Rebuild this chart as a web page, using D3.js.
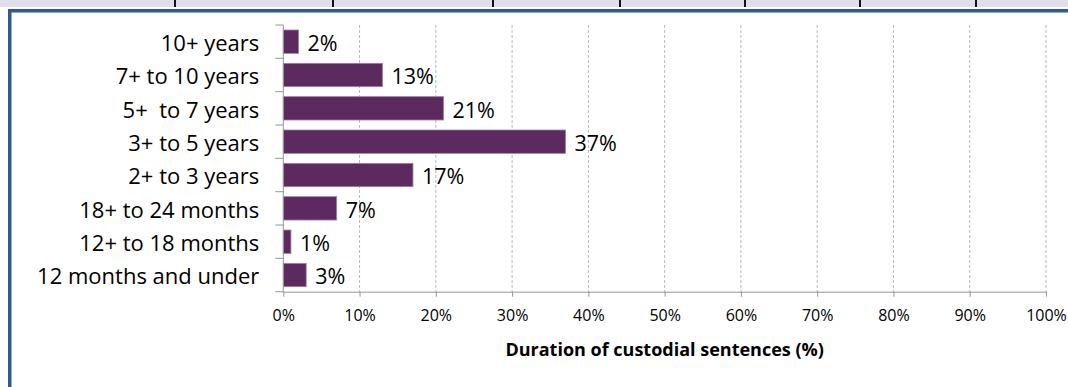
<!DOCTYPE html>
<html>
<head>
<meta charset="utf-8">
<script src="https://cdn.jsdelivr.net/npm/d3@7"></script>
<style>
	html, body { margin: 0; padding: 0; background: #fff; }
	svg { display: block; font-family: 'Open Sans', sans-serif; }
	.cat-label { white-space: pre; }
</style>
</head>
<body>
<div id="chart"></div>
<script>

var width = 1068;
var height = 387;

var margin = {
	top: 25,
	right: 22,
	bottom: 95.3,
	left: 283.3
};

var categories = ['10+ years', '7+ to 10 years', '5+  to 7 years', '3+ to 5 years', '2+ to 3 years', '18+ to 24 months', '12+ to 18 months', '12 months and under'];
var values = [2, 13, 21, 37, 17, 7, 1, 3];
var xTicks = [0, 10, 20, 30, 40, 50, 60, 70, 80, 90, 100];
var xAxisLabel = 'Duration of custodial sentences (%)';

var barColor = '#5c2a5e';
var axisColor = '#969696';
var gridColor = '#b8b8b8';

// header strip column dividers above the frame
var stripDividers = [175, 333, 493, 620, 745, 860, 976];

var app = {
	init: function(el) {
		this.el = el;
		this.data = categories.map(function(c, i) {
			return { category: c, value: values[i] };
		});
		this.plotWidth = width - margin.left - margin.right;
		this.plotHeight = height - margin.top - margin.bottom;

		var svg = d3.select(el).append('svg')
			.attr('width', width)
			.attr('height', height);

		this.drawFrame(svg);

		var g = svg.append('g')
			.attr('transform', 'translate(' + margin.left + ',' + margin.top + ')');

		this.configureScales();
		this.drawGrid(g);
		this.drawBars(g);
		this.drawAxes(g);
	},
	drawFrame: function(svg) {
		svg.append('rect')
			.attr('x', 0).attr('y', 0)
			.attr('width', width).attr('height', 7)
			.attr('fill', '#e1deeb');

		svg.selectAll('.strip-divider')
			.data(stripDividers)
			.enter().append('rect')
			.attr('class', 'strip-divider')
			.attr('x', function(d) { return d - 1; })
			.attr('y', 0)
			.attr('width', 2)
			.attr('height', 7)
			.attr('fill', '#111');

		// blue frame: top and left edges
		svg.append('rect')
			.attr('x', 8).attr('y', 9)
			.attr('width', width - 8).attr('height', 3.5)
			.attr('fill', '#2e5a8c');
		svg.append('rect')
			.attr('x', 8).attr('y', 9)
			.attr('width', 3.5).attr('height', height - 9)
			.attr('fill', '#2e5a8c');
	},
	configureScales: function() {
		this.x = d3.scaleLinear()
			.domain([0, 100])
			.range([0, this.plotWidth]);

		this.y = d3.scaleBand()
			.domain(categories)
			.range([0, this.plotHeight])
			.paddingInner(0.3)
			.paddingOuter(0.15);
	},
	drawGrid: function(g) {
		var x = this.x;
		var h = this.plotHeight;

		g.selectAll('.grid')
			.data(xTicks.filter(function(d) { return d > 0; }))
			.enter().append('line')
			.attr('class', 'grid')
			.attr('x1', function(d) { return x(d); })
			.attr('x2', function(d) { return x(d); })
			.attr('y1', 0)
			.attr('y2', h)
			.attr('stroke', gridColor)
			.attr('stroke-width', 1)
			.attr('stroke-dasharray', '3,2');
	},
	drawBars: function(g) {
		var x = this.x;
		var y = this.y;

		var bar = g.selectAll('.bar')
			.data(this.data)
			.enter().append('g')
			.attr('class', 'bar');

		bar.append('rect')
			.attr('x', x(0))
			.attr('y', function(d) { return y(d.category); })
			.attr('width', function(d) { return x(d.value) - x(0); })
			.attr('height', y.bandwidth())
			.attr('fill', barColor)
			.attr('stroke', '#9c809d')
			.attr('stroke-width', 0.8);

		bar.append('text')
			.attr('x', function(d) { return x(d.value) + 9; })
			.attr('y', function(d) { return y(d.category) + y.bandwidth() / 2; })
			.attr('dy', '0.43em')
			.style('font-size', '21.5px')
			.attr('fill', '#000')
			.text(function(d) { return d.value + '%'; });
	},
	drawAxes: function(g) {
		var x = this.x;
		var y = this.y;
		var h = this.plotHeight;

		// x axis
		var xAxis = d3.axisBottom(x)
			.tickValues(xTicks)
			.tickSize(5)
			.tickSizeOuter(0)
			.tickPadding(13)
			.tickFormat(function(d) { return d + '%'; });

		var xg = g.append('g')
			.attr('class', 'x axis')
			.attr('transform', 'translate(0,' + h + ')')
			.call(xAxis);

		xg.select('.domain').attr('stroke', axisColor);
		xg.selectAll('.tick line').attr('stroke', axisColor);
		xg.selectAll('.tick text')
			.attr('fill', '#000')
			.style('font-family', "'Open Sans', sans-serif")
			.style('font-size', '16px');

		// y axis: line plus ticks between categories
		var yg = g.append('g').attr('class', 'y axis');

		yg.append('line')
			.attr('x1', 0).attr('x2', 0)
			.attr('y1', 0).attr('y2', h)
			.attr('stroke', axisColor);

		var bounds = d3.range(categories.length + 1).map(function(i) { return i * y.step(); });
		yg.selectAll('.ytick')
			.data(bounds)
			.enter().append('line')
			.attr('class', 'ytick')
			.attr('x1', -8).attr('x2', 0)
			.attr('y1', function(d) { return d; })
			.attr('y2', function(d) { return d; })
			.attr('stroke', axisColor);

		yg.selectAll('.cat-label')
			.data(categories)
			.enter().append('text')
			.attr('class', 'cat-label')
			.attr('x', -24)
			.attr('y', function(d) { return y(d) + y.bandwidth() / 2; })
			.attr('dy', '0.43em')
			.style('text-anchor', 'end')
			.style('font-size', '22px')
			.attr('fill', '#000')
			.text(function(d) { return d; });

		// axis title
		g.append('text')
			.attr('x', this.plotWidth / 2)
			.attr('y', h + 64)
			.style('text-anchor', 'middle')
			.style('font-size', '18px')
			.style('font-weight', 'bold')
			.attr('fill', '#000')
			.text(xAxisLabel);
	}
};

app.init('#chart');
</script>
</body>
</html>
